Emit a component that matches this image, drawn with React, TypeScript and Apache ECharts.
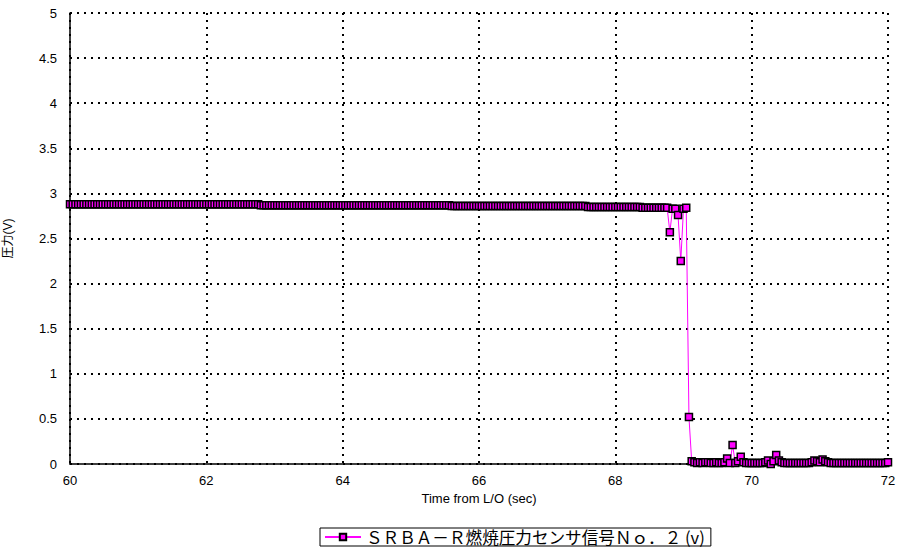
import React, { useEffect, useRef } from "react";
import * as echarts from "echarts";

const T0 = 60;
const DT = 0.04;

// 60.00 - 68.76 s (steady)
const steadyValues: number[] = [
  2.88, 2.88, 2.88, 2.88, 2.88, 2.88, 2.88, 2.88, 2.88, 2.88,
  2.88, 2.88, 2.88, 2.88, 2.88, 2.88, 2.88, 2.88, 2.88, 2.88,
  2.88, 2.88, 2.88, 2.88, 2.88, 2.88, 2.88, 2.88, 2.88, 2.88,
  2.88, 2.88, 2.88, 2.88, 2.88, 2.88, 2.88, 2.88, 2.88, 2.88,
  2.88, 2.88, 2.88, 2.88, 2.88, 2.88, 2.88, 2.88, 2.88, 2.88,
  2.88, 2.88, 2.88, 2.88, 2.88, 2.88, 2.88, 2.88, 2.88, 2.88,
  2.88, 2.88, 2.88, 2.88, 2.88, 2.88, 2.88, 2.88, 2.88, 2.88,
  2.87, 2.87, 2.87, 2.87, 2.87, 2.87, 2.87, 2.87, 2.87, 2.87,
  2.87, 2.87, 2.87, 2.87, 2.87, 2.87, 2.87, 2.87, 2.87, 2.87,
  2.87, 2.87, 2.87, 2.87, 2.87, 2.87, 2.87, 2.87, 2.87, 2.87,
  2.87, 2.87, 2.87, 2.87, 2.87, 2.87, 2.87, 2.87, 2.87, 2.87,
  2.87, 2.87, 2.87, 2.87, 2.87, 2.87, 2.87, 2.87, 2.87, 2.87,
  2.87, 2.87, 2.87, 2.87, 2.87, 2.87, 2.87, 2.87, 2.87, 2.87,
  2.87, 2.87, 2.87, 2.87, 2.87, 2.87, 2.87, 2.87, 2.87, 2.87,
  2.86, 2.86, 2.86, 2.86, 2.86, 2.86, 2.86, 2.86, 2.86, 2.86,
  2.86, 2.86, 2.86, 2.86, 2.86, 2.86, 2.86, 2.86, 2.86, 2.86,
  2.86, 2.86, 2.86, 2.86, 2.86, 2.86, 2.86, 2.86, 2.86, 2.86,
  2.86, 2.86, 2.86, 2.86, 2.86, 2.86, 2.86, 2.86, 2.86, 2.86,
  2.86, 2.86, 2.86, 2.86, 2.86, 2.86, 2.86, 2.86, 2.86, 2.86,
  2.85, 2.85, 2.85, 2.85, 2.85, 2.85, 2.85, 2.85, 2.85, 2.85,
  2.85, 2.85, 2.85, 2.85, 2.85, 2.85, 2.85, 2.85, 2.85, 2.85,
  2.84, 2.84, 2.84, 2.84, 2.84, 2.84, 2.84, 2.84, 2.84, 2.84,
];

// 68.80 - 69.08 s (shutdown transient)
const transientValues: number[] = [2.57, 2.83, 2.83, 2.76, 2.25, 2.83, 2.84, 0.52];

// 69.12 - 72.00 s (tail-off)
const tailValues: number[] = [
  0.03, 0.02, 0.01, 0.02, 0.01, 0.02, 0.02, 0.01, 0.01, 0.02,
  0.01, 0.01, 0.02, 0.06, 0.01, 0.21, 0.01, 0.03, 0.08, 0.02,
  0.01, 0.01, 0.01, 0.01, 0.01, 0.01, 0.01, 0.02, 0.04, 0.00,
  0.03, 0.10, 0.04, 0.02, 0.01, 0.01, 0.01, 0.01, 0.01, 0.01,
  0.01, 0.01, 0.01, 0.01, 0.02, 0.04, 0.03, 0.02, 0.05, 0.03,
  0.02, 0.01, 0.01, 0.01, 0.01, 0.01, 0.01, 0.01, 0.01, 0.01,
  0.01, 0.01, 0.01, 0.01, 0.01, 0.01, 0.01, 0.01, 0.01, 0.01,
  0.01, 0.01, 0.02,
];

const xTicks = [60, 62, 64, 66, 68, 70, 72];
const yTicks = [0, 0.5, 1, 1.5, 2, 2.5, 3, 3.5, 4, 4.5, 5];

const seriesName = "ＳＲＢＡ－Ｒ燃焼圧力センサ信号Ｎｏ．２ (v)";
const xName = "Time from L/O (sec)";
const yName = "圧力(V)";

const FONT = "'Liberation Sans', Arial, 'Noto Sans CJK JP', sans-serif";
const CJK = "'Noto Sans CJK JP', 'Liberation Sans', sans-serif";

export default function App() {
  const ref = useRef<HTMLDivElement>(null);
  useEffect(() => {
    if (!ref.current) return;
    const chart = echarts.init(ref.current, null, { renderer: "svg" });
    const values = [...steadyValues, ...transientValues, ...tailValues];
    const data = values.map((v, i) => [+(T0 + i * DT).toFixed(2), v]);
    const gridLine = { show: true, lineStyle: { color: "#000", width: 2, type: [2, 5] as number[] } };
    chart.setOption({
      animation: false,
      textStyle: { fontFamily: FONT },
      grid: { left: 70, right: 12, top: 13, bottom: 84, containLabel: false, outerBoundsMode: "none" },
      xAxis: {
        type: "value",
        min: xTicks[0],
        max: xTicks[xTicks.length - 1],
        interval: 2,
        name: xName,
        nameLocation: "middle",
        nameGap: 28,
        nameTextStyle: { fontSize: 13, color: "#000", fontFamily: FONT },
        axisLine: { show: true, lineStyle: { color: "#000", width: 1.5 } },
        axisTick: { show: false },
        axisLabel: { color: "#000", fontSize: 13, margin: 10, fontFamily: FONT },
        splitLine: gridLine,
      },
      yAxis: {
        type: "value",
        min: yTicks[0],
        max: yTicks[yTicks.length - 1],
        interval: 0.5,
        name: yName,
        nameLocation: "middle",
        nameGap: 56,
        nameRotate: 90,
        nameTextStyle: { fontSize: 12, color: "#000", fontFamily: FONT },
        axisLine: { show: true, lineStyle: { color: "#000", width: 1.5 } },
        axisTick: { show: false },
        axisLabel: { color: "#000", fontSize: 13, margin: 13, fontFamily: FONT },
        splitLine: gridLine,
      },
      legend: {
        show: true,
        left: 320,
        top: 528,
        padding: [0, 6, 0, 4],
        itemGap: 0,
        itemWidth: 36,
        itemHeight: 8,
        borderColor: "#000",
        borderWidth: 1,
        borderRadius: 0,
        textStyle: { fontSize: 16.6, lineHeight: 18, color: "#000", fontFamily: CJK },
        data: [seriesName],
      },
      graphic: [
        {
          type: "line",
          shape: { x1: 888, y1: 13, x2: 888, y2: 464 },
          style: { stroke: "#000", lineWidth: 2, lineDash: [2, 5] },
          silent: true,
        },
      ],
      series: [
        {
          name: seriesName,
          type: "line",
          data,
          symbol: "rect",
          symbolSize: 7,
          showAllSymbol: true,
          lineStyle: { color: "#FF00FF", width: 1 },
          itemStyle: { color: "#FF00FF", borderColor: "#000", borderWidth: 1.5 },
        },
      ],
    });
    return () => chart.dispose();
  }, []);
  return <div ref={ref} style={{ width: 900, height: 548, position: "absolute", left: 0, top: 0 }} />;
}
